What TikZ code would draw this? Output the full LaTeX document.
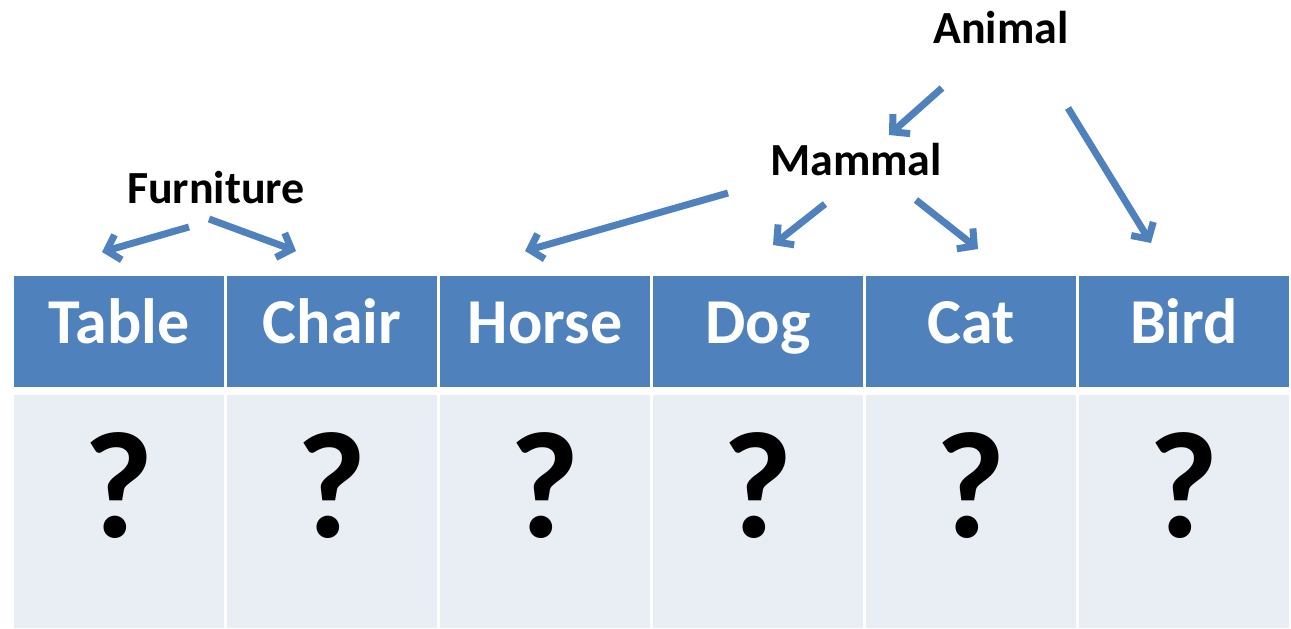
\documentclass[tikz,border=0pt]{standalone}
\usepackage{fontspec}
\setmainfont{Carlito}
\usetikzlibrary{arrows.meta}

\definecolor{headblue}{HTML}{4F81BD}
\definecolor{cellgrey}{HTML}{E9EDF4}

\tikzset{
    head/.style = {fill = headblue, text = white, inner sep = 0pt,
        minimum width = 210pt, minimum height = 111pt,
        text height = 23pt, text depth = 0pt,
        font = \fontsize{64}{64}\selectfont\bfseries},
    cell/.style = {fill = cellgrey, inner sep = 0pt,
        minimum width = 210pt, minimum height = 233pt,
        text height = 51pt, text depth = 0pt,
        font = \fontsize{152}{152}\selectfont\bfseries},
    group/.style = {anchor = base, inner sep = 0pt,
        font = \fontsize{46}{46}\selectfont\bfseries},
    arr/.style = {draw = headblue, line width = 7pt,
        -{Straight Barb[length = 12pt, width = 26pt]}}
}

\begin{document}
\begin{tikzpicture}[x = 1pt, y = -1pt]
    \useasboundingbox (0,0) rectangle (1291,629);

    %header row and empty cells
    \foreach \name [count = \i from 0] in {Table, Chair, Horse, Dog, Cat, Bird} {
        \node[head] (h\i) at (119 + 213*\i, 331.5) {\name};
        \node[cell] (c\i) at (119 + 213*\i, 511.5) {?};
    }

    %group labels
    \node[group] (animal) at (1001,43) {Animal};
    \node[group] (mammal) at (856,175) {Mammal};
    \node[group] (furniture) at (216,203) {Furniture};

    %arrow ends
    \coordinate (furL) at (189,227);
    \coordinate (furR) at (209,219);
    \coordinate (aniL) at (942,88);
    \coordinate (aniR) at (1068,108);
    \coordinate (mamL) at (728,193);
    \coordinate (mamM) at (825,204);
    \coordinate (mamR) at (916,200);
    \coordinate (toTable) at (102,252);
    \coordinate (toChair) at (296,251);
    \coordinate (toMammal) at (889,135);
    \coordinate (toBird) at (1151,243);
    \coordinate (toHorse) at (525,251);
    \coordinate (toDog) at (773,245);
    \coordinate (toCat) at (978,249);

    %arrows
    \draw[arr] (furL) -- (toTable);
    \draw[arr] (furR) -- (toChair);
    \draw[arr] (aniL) -- (toMammal);
    \draw[arr] (aniR) -- (toBird);
    \draw[arr] (mamL) -- (toHorse);
    \draw[arr] (mamM) -- (toDog);
    \draw[arr] (mamR) -- (toCat);
\end{tikzpicture}
\end{document}
